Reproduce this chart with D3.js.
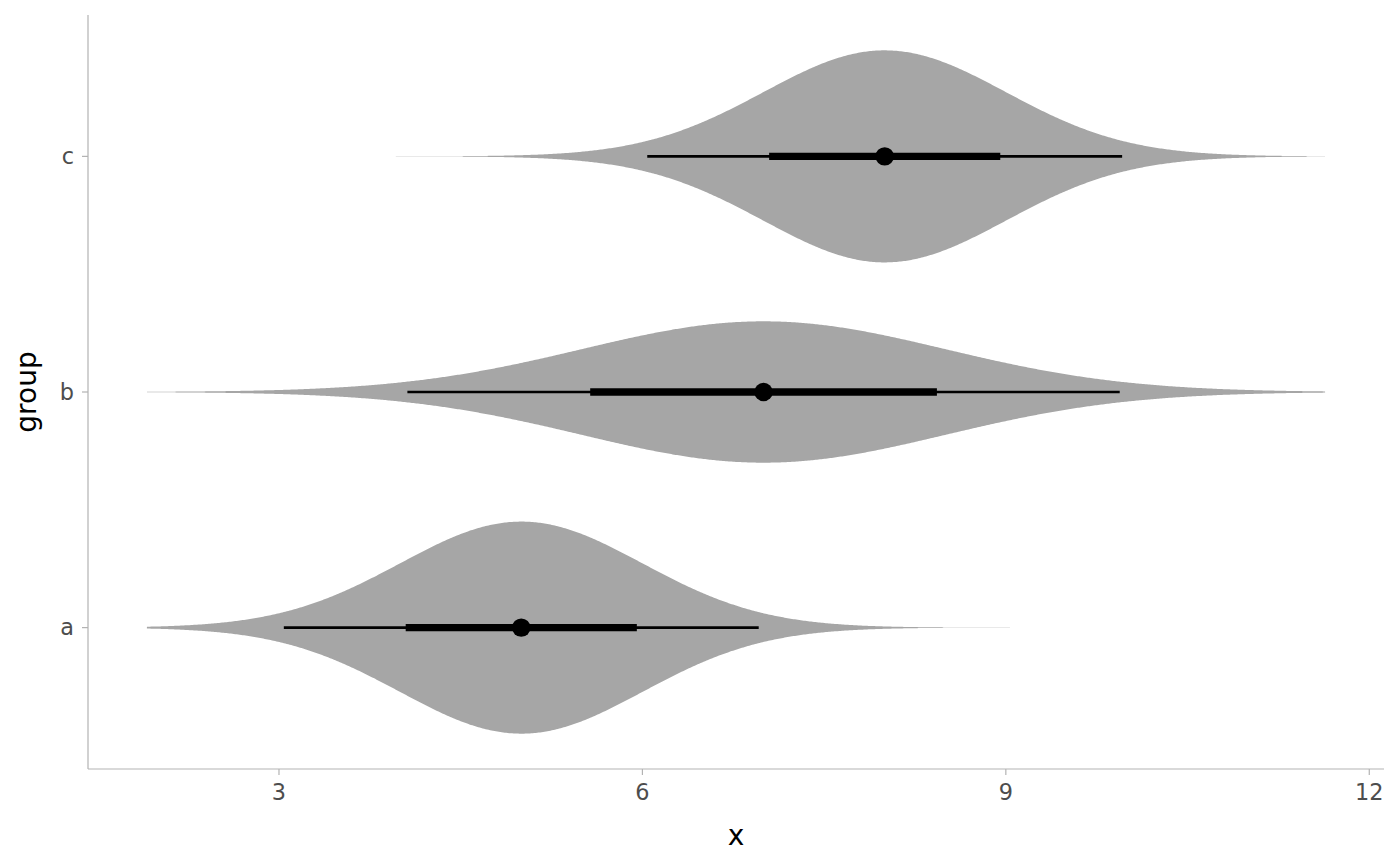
<!DOCTYPE html>
<html>
<head>
    <script src="https://d3js.org/d3.v7.min.js"></script>
    <style>
        body { margin: 0; background: #fff; }
        svg { display: block; }
        text { font-family: "DejaVu Sans", sans-serif; }
        .tick-label { fill: #4d4d4d; font-size: 22.4px; }
        .axis-title { fill: #000; font-size: 28px; }
    </style>
</head>
<body>
    <svg></svg>
    <script>
        // distributions per group
        const groups = ["a", "b", "c"];
        const means = [5, 7, 8];
        const sds = [1, 1.5, 1];
        const xTicks = [3, 6, 9, 12];

        const width = 1400, height = 866;
        const margin = { left: 88, right: 16, top: 15, bottom: 97 };

        const svg = d3.select("svg").attr("width", width).attr("height", height);

        // slab limits: 0.1% / 99.9% quantiles over all groups
        const zLim = 3.0902;
        const lo = d3.min(means, (m, i) => m - zLim * sds[i]);
        const hi = d3.max(means, (m, i) => m + zLim * sds[i]);
        const pad = (hi - lo) * 0.05;

        const x = d3.scaleLinear()
            .domain([lo - pad, hi + pad])
            .range([margin.left, width - margin.right]);

        const y = d3.scaleLinear()
            .domain([0.4, 3.6])
            .range([height - margin.bottom, margin.top]);

        const dnorm = (v, m, s) => Math.exp(-0.5 * ((v - m) / s) ** 2) / (s * Math.sqrt(2 * Math.PI));
        const grid = d3.range(0, 801).map(i => lo + (hi - lo) * i / 800);

        const scale = 0.9;
        const unit = y(0) - y(1);
        const slabs = groups.map((g, i) => ({
            g, i,
            pts: grid.map(v => [v, dnorm(v, means[i], sds[i])])
        }));
        const maxD = d3.max(slabs, s => d3.max(s.pts, p => p[1]));
        const half = d => d / maxD * scale / 2 * unit;

        slabs.forEach(s => {
            // drop the sub-pixel tails
            s.pts = s.pts.filter(p => half(p[1]) > 0.03);
        });

        svg.append("g")
            .selectAll("path")
            .data(slabs)
            .join("path")
            .attr("fill", "#a6a6a6")
            .attr("d", s => {
                const base = y(s.i + 1);
                return d3.area()
                    .x(p => x(p[0]))
                    .y0(p => base + half(p[1]))
                    .y1(p => base - half(p[1]))(s.pts);
            });

        // intervals
        const ints = svg.append("g");
        groups.forEach((g, i) => {
            const cy = y(i + 1);
            ints.append("line")
                .attr("x1", x(means[i] - 1.96 * sds[i])).attr("x2", x(means[i] + 1.96 * sds[i]))
                .attr("y1", cy).attr("y2", cy)
                .attr("stroke", "#000").attr("stroke-width", 2.7);
            ints.append("line")
                .attr("x1", x(means[i] - 0.954 * sds[i])).attr("x2", x(means[i] + 0.954 * sds[i]))
                .attr("y1", cy).attr("y2", cy)
                .attr("stroke", "#000").attr("stroke-width", 7.3);
            ints.append("circle")
                .attr("cx", x(means[i])).attr("cy", cy).attr("r", 9.2)
                .attr("fill", "#000");
        });

        // axes
        const axisColor = "#b3b3b3";
        const yBottom = height - margin.bottom;
        svg.append("line")
            .attr("x1", margin.left).attr("x2", width - margin.right)
            .attr("y1", yBottom).attr("y2", yBottom)
            .attr("stroke", axisColor).attr("stroke-width", 1.2);
        svg.append("line")
            .attr("x1", margin.left).attr("x2", margin.left)
            .attr("y1", margin.top).attr("y2", yBottom)
            .attr("stroke", axisColor).attr("stroke-width", 1.2);

        xTicks.forEach(t => {
            svg.append("line")
                .attr("x1", x(t)).attr("x2", x(t))
                .attr("y1", yBottom).attr("y2", yBottom + 6)
                .attr("stroke", axisColor).attr("stroke-width", 1.2);
            svg.append("text")
                .attr("class", "tick-label")
                .attr("x", x(t)).attr("y", yBottom + 31)
                .attr("text-anchor", "middle")
                .text(t);
        });

        groups.forEach((g, i) => {
            svg.append("line")
                .attr("x1", margin.left - 6).attr("x2", margin.left)
                .attr("y1", y(i + 1)).attr("y2", y(i + 1))
                .attr("stroke", axisColor).attr("stroke-width", 1.2);
            svg.append("text")
                .attr("class", "tick-label")
                .attr("x", margin.left - 14).attr("y", y(i + 1))
                .attr("dy", "0.35em")
                .attr("text-anchor", "end")
                .text(g);
        });

        svg.append("text")
            .attr("class", "axis-title")
            .attr("x", (margin.left + width - margin.right) / 2)
            .attr("y", 845)
            .attr("text-anchor", "middle")
            .text("x");

        svg.append("text")
            .attr("class", "axis-title")
            .attr("transform", `translate(36,${(margin.top + yBottom) / 2}) rotate(-90)`)
            .attr("text-anchor", "middle")
            .text("group");
    </script>
</body>
</html>
